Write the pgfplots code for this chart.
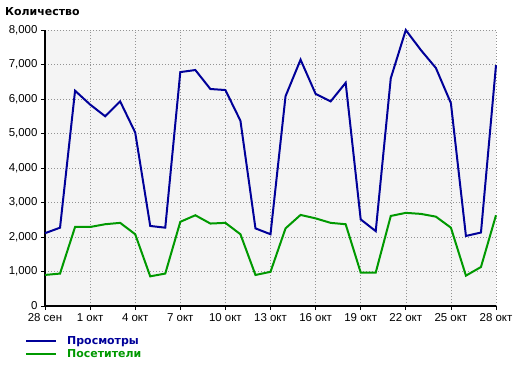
\documentclass[border=0pt]{standalone}
\usepackage{fontspec}
\setmainfont{Liberation Sans}
\newfontfamily\djv{DejaVu Sans}
\usepackage{pgfplots}
\pgfplotsset{compat=1.18}
\definecolor{cblue}{RGB}{0,0,153}
\definecolor{cgreen}{RGB}{0,153,0}
\definecolor{bgc}{RGB}{244,244,244}
\begin{document}
\begin{tikzpicture}
\path[use as bounding box] (-45bp,-60bp) rectangle (475bp,306bp);
\begin{axis}[
  at={(0,0)}, anchor=south west,
  scale only axis, width=451bp, height=276bp,
  xmin=0, xmax=30, ymin=0, ymax=8000,
  axis x line*=bottom, axis y line*=left,
  axis line style={line width=1.8bp, black},
  axis background/.style={fill=bgc},
  xtick={0,3,...,30},
  xticklabels={28 сен,1 окт,4 окт,7 окт,10 окт,13 окт,16 окт,19 окт,22 окт,25 окт,28 окт},
  ytick={0,1000,...,8000},
  tick align=outside,
  major tick length=4bp,
  tick style={black, line width=0.8bp},
  grid=major,
  major grid style={gray!85, line width=0.6bp, dash pattern=on 0.7bp off 2.3bp},
  /pgf/number format/.cd, 1000 sep={,}, assume math mode=true,
  /pgfplots/.cd,
  ticklabel style={font=\fontsize{11.5}{13}\selectfont},
  clip=false,
  legend style={at={(axis description cs:-0.0443,-0.103)}, anchor=north west, draw=none, fill=none,
    font=\djv\fontsize{11}{13}\selectfont\bfseries, row sep=-1bp, inner sep=0pt},
  legend cell align=left,
  legend image code/.code={\draw[#1] (0bp,0bp) -- (30bp,0bp);},
]
\addplot[cblue, line width=2bp] coordinates {
(0,2110) (1,2270) (2,6240) (3,5840) (4,5500) (5,5930) (6,5030) (7,2320) (8,2270) (9,6780)
(10,6840) (11,6290) (12,6260) (13,5370) (14,2250) (15,2080) (16,6080) (17,7140) (18,6150) (19,5930)
(20,6470) (21,2510) (22,2170) (23,6600) (24,8000) (25,7420) (26,6900) (27,5880) (28,2030) (29,2130) (30,6980)};
\addlegendentry{\hspace{8bp}\textcolor{cblue}{Просмотры}}
\addplot[cgreen, line width=2bp] coordinates {
(0,900) (1,940) (2,2290) (3,2290) (4,2370) (5,2410) (6,2080) (7,860) (8,940) (9,2440)
(10,2630) (11,2390) (12,2410) (13,2080) (14,900) (15,990) (16,2250) (17,2640) (18,2540) (19,2410)
(20,2370) (21,970) (22,970) (23,2610) (24,2700) (25,2670) (26,2590) (27,2270) (28,880) (29,1130) (30,2630)};
\addlegendentry{\hspace{8bp}\textcolor{cgreen}{Посетители}}
\end{axis}
\node[anchor=west, font=\djv\fontsize{11}{14}\selectfont\bfseries, inner sep=0pt] at (-40bp,294bp) {Количество};
\end{tikzpicture}
\end{document}
